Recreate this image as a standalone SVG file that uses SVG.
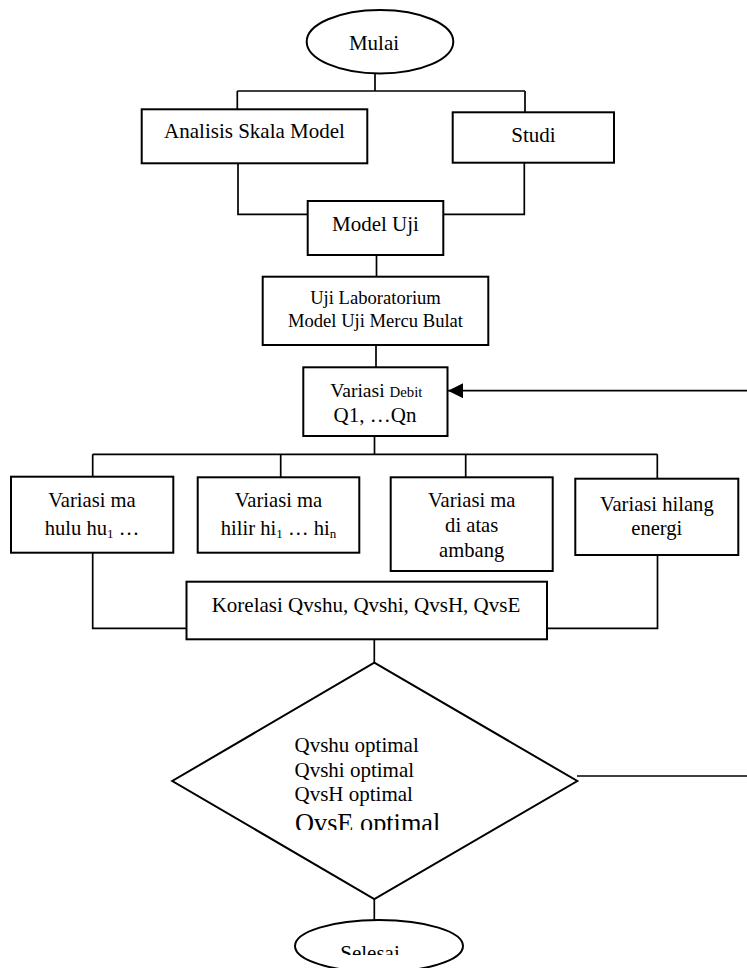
<svg xmlns="http://www.w3.org/2000/svg" width="747" height="968" viewBox="0 0 747 968">
<style>
.s{fill:#fff;stroke:#000;stroke-width:2}
.c{fill:none;stroke:#000;stroke-width:1.7}
text{font-family:"Liberation Serif","Times New Roman",serif;fill:#000}
.t{font-size:21px;text-anchor:middle}
.m{font-size:18.6px;text-anchor:middle}
.v{font-size:20.6px;text-anchor:middle}
.d{font-size:21px}
</style>
<defs>
<marker id="ah" markerWidth="15" markerHeight="15" refX="15" refY="7.5" orient="auto" markerUnits="userSpaceOnUse">
<path d="M0,0 L15,7.5 L0,15 Z" fill="#000"/>
</marker>
<clipPath id="clipE"><rect x="0" y="0" width="747" height="830"/></clipPath>
<clipPath id="clipS"><rect x="0" y="0" width="747" height="955"/></clipPath>
</defs>
<rect width="747" height="968" fill="#fff"/>
<g id="connectors">
<path class="c" d="M375,73 V91 M237.3,91 H525 M237.3,91 V109.3 M525,91 V112.3"/>
<path class="c" d="M238,163.3 V214.3 H307.7 M524.3,162.7 V214.3 H443.3"/>
<path class="c" d="M376.5,255 V276.7"/>
<path class="c" d="M376,345 V367.3"/>
<path class="c" d="M374.5,436 V454.3 M92.7,454.3 H657.3 M92.7,454.3 V476.7 M280.7,454.3 V477.3 M465.7,454.3 V477.3 M657.3,454.3 V478.7"/>
<path class="c" d="M92.7,552.7 V628.3 H186.5 M657.5,555 V628.3 H547"/>
<path class="c" d="M374.3,639.3 V662.7"/>
<path class="c" d="M374.3,899 V920"/>
<path class="c" d="M577,776 H747"/>
<path class="c" d="M747,390.7 H448" marker-end="url(#ah)"/>
</g>
<g id="mulai">
<ellipse class="s" cx="380" cy="41.7" rx="73.3" ry="31.7"/>
<text class="t" x="374" y="50">Mulai</text>
</g>
<g id="analisis">
<rect class="s" x="141.7" y="109.3" width="225.6" height="54"/>
<text class="t" x="254.5" y="138.3">Analisis Skala Model</text>
</g>
<g id="studi">
<rect class="s" x="452.7" y="112.3" width="161.3" height="50.4"/>
<text class="t" x="533.5" y="141.7">Studi</text>
</g>
<g id="model-uji">
<rect class="s" x="307.7" y="201" width="135.6" height="54"/>
<text class="t" x="375.5" y="230.7">Model Uji</text>
</g>
<g id="uji-lab">
<rect class="s" x="262.7" y="276.7" width="225.6" height="68.3"/>
<text class="m" x="375.5" y="304.3">Uji Laboratorium</text>
<text class="m" x="375.5" y="326.7">Model Uji Mercu Bulat</text>
</g>
<g id="variasi-debit">
<rect class="s" x="303.3" y="367.3" width="144.2" height="68.7"/>
<text class="t" x="376.3" y="397.3"><tspan font-size="19.6">Variasi </tspan><tspan font-size="14.8">Debit</tspan></text>
<text class="t" x="375" y="422.3">Q1, …Qn</text>
</g>
<g id="variasi-hulu">
<rect class="s" x="11" y="476.7" width="162.3" height="76"/>
<text class="v" x="92" y="507.3">Variasi ma</text>
<text class="v" x="92" y="535">hulu hu<tspan font-size="13" dy="3">1</tspan><tspan dy="-3"> …</tspan></text>
</g>
<g id="variasi-hilir">
<rect class="s" x="197.7" y="477.3" width="161.6" height="75.4"/>
<text class="v" x="278.5" y="507.3">Variasi ma</text>
<text class="v" x="278.5" y="535">hilir hi<tspan font-size="13" dy="3">1</tspan><tspan dy="-3"> … hi</tspan><tspan font-size="13" dy="3">n</tspan></text>
</g>
<g id="variasi-ambang">
<rect class="s" x="390.7" y="477.3" width="162" height="93.7"/>
<text class="v" x="471.7" y="507.3">Variasi ma</text>
<text class="v" x="471.7" y="532.3">di atas</text>
<text class="v" x="471.7" y="556.7">ambang</text>
</g>
<g id="variasi-energi">
<rect class="s" x="575.3" y="478.7" width="163" height="76.3"/>
<text class="v" x="656.8" y="510.7">Variasi hilang</text>
<text class="v" x="656.8" y="535">energi</text>
</g>
<g id="korelasi">
<rect class="s" x="186.5" y="581.7" width="360.5" height="57.6"/>
<text class="t" x="366" y="612">Korelasi Qvshu, Qvshi, QvsH, QvsE</text>
</g>
<g id="keputusan">
<path class="s" d="M374.3,662.7 L577.3,781 L374.3,899 L172.3,781 Z" stroke-width="1.7"/>
<text class="d" x="294.5" y="751.7">Qvshu optimal</text>
<text class="d" x="294.5" y="776.7">Qvshi optimal</text>
<text class="d" x="294.5" y="800.7">QvsH optimal</text>
<text x="295" y="832" font-size="26.3" clip-path="url(#clipE)">QvsE optimal</text>
</g>
<g id="selesai">
<ellipse class="s" cx="379" cy="946" rx="84" ry="26"/>
<text class="t" x="370" y="960" font-size="20" clip-path="url(#clipS)">Selesai</text>
</g>
</svg>
